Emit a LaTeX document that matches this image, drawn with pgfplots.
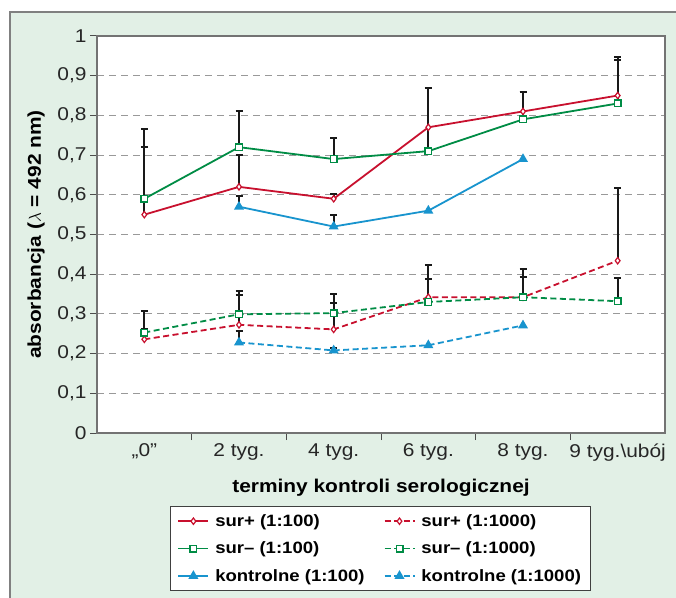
\documentclass[border=0pt]{standalone}
\usepackage{fontspec}
\setmainfont{Liberation Sans}[FakeStretch=1.13]
\usepackage{pgfplots}
\pgfplotsset{compat=1.18}
\definecolor{cred}{RGB}{200,16,46}
\definecolor{cgreen}{RGB}{0,140,69}
\definecolor{cblue}{RGB}{24,148,206}
\definecolor{bgg}{RGB}{226,240,230}
\definecolor{frameg}{RGB}{128,128,128}
\begin{document}
\begin{tikzpicture}[x=1pt,y=1pt]
\useasboundingbox (0,0) rectangle (676,597);
\fill[white] (0,0) rectangle (676,597);
\draw[frameg, line width=2pt, fill=bgg] (10,-20) rectangle (700,585);
\begin{axis}[
  at={(97pt,164pt)}, anchor=south west,
  scale only axis, width=568pt, height=397pt,
  xmin=-0.5, xmax=5.5, ymin=0, ymax=1,
  axis background/.style={fill=white},
  xtick={0,1,2,3,4,5},
  xticklabels={„0”, 2 tyg., 4 tyg., 6 tyg., 8 tyg., 9 tyg.\textbackslash ubój},
  minor xtick={0.5,1.5,2.5,3.5,4.5},
  ytick={0,0.1,0.2,0.3,0.4,0.5,0.6,0.7,0.8,0.9,1},
  /pgf/number format/use comma,
  /pgf/number format/assume math mode=true,
  tick label style={font=\fontsize{18.5}{20}\selectfont, black!85},
  tick align=outside, tick pos=left,
  major tick length=7pt, minor tick length=7pt,
  major x tick style={draw=none},
  minor x tick style={black!70, line width=1pt},
  ytick style={black!70, line width=1pt},
  x axis line style={black!85, line width=1.2pt},
  y axis line style={black!55, line width=1.2pt},
  ymajorgrids,
  major grid style={black!40, line width=1pt, dash pattern=on 7pt off 5pt},
  xlabel={terminy kontroli serologicznej},
  xlabel style={at={(axis description cs:0.5,-0.151)}, anchor=base, font=\bfseries\fontsize{18.5}{20}\selectfont},
  ylabel={absorbancja ($\lambda$ = 492 nm)},
  ylabel style={at={(axis description cs:-0.1074,0.5)}, anchor=center, font=\bfseries\fontsize{18.5}{20}\selectfont},
  legend columns=2, legend cell align=left,
  legend style={at={(axis description cs:0.1285,-0.1839)}, anchor=north west,
    draw=black!75, line width=1pt, fill=white,
    font=\bfseries\fontsize{16.4}{18}\selectfont,
    inner xsep=7pt, inner ysep=6pt, row sep=10pt,
    nodes={inner sep=2pt},
    /tikz/every odd column/.append style={column sep=4pt},
    /tikz/every even column/.append style={column sep=17pt}},
  legend image code/.code={\draw[mark repeat=2, mark phase=2, line width=1.8pt] plot coordinates {(0pt,0pt)(15pt,0pt)(30pt,0pt)};},
]
% error bars (plus direction only)
\addplot[forget plot, draw=none, mark=none,
  error bars/.cd, y dir=plus, y explicit,
  error bar style={draw=black!90, line width=2pt, solid},
  error mark options={rotate=90, draw=black!90, mark size=3.5pt, line width=2pt}]
  coordinates {
  (0,0.55) +- (0,0.17)
  (1,0.62) +- (0,0.08)
  (2,0.59) +- (0,0.012)
  (3,0.77) +- (0,0.10)
  (4,0.81) +- (0,0.05)
  (5,0.85) +- (0,0.09)
  (0,0.59) +- (0,0.176)
  (1,0.72) +- (0,0.092)
  (2,0.69) +- (0,0.054)
  (3,0.71) +- (0,0.16)
  (4,0.79) +- (0,0.07)
  (5,0.83) +- (0,0.118)
  (1,0.57) +- (0,0.027)
  (2,0.52) +- (0,0.03)
  (0,0.236) +- (0,0.027)
  (1,0.2725) +- (0,0.075)
  (2,0.261) +- (0,0.066)
  (3,0.342) +- (0,0.081)
  (4,0.342) +- (0,0.071)
  (5,0.434) +- (0,0.183)
  (0,0.253) +- (0,0.055)
  (1,0.299) +- (0,0.059)
  (2,0.302) +- (0,0.047)
  (3,0.33) +- (0,0.057)
  (4,0.342) +- (0,0.05)
  (5,0.332) +- (0,0.058)
  (1,0.228) +- (0,0.029)
  (2,0.208) +- (0,0.007)
  };
% sur+ (1:100)
\addplot[cred, line width=1.8pt, mark=diamond*, mark size=3.2pt,
  mark options={solid, fill=white, line width=1.2pt}]
  coordinates {(0,0.55)(1,0.62)(2,0.59)(3,0.77)(4,0.81)(5,0.85)};
\addlegendentry{sur+ (1:100)}
% sur+ (1:1000)
\addplot[cred, line width=1.8pt, dash pattern=on 6pt off 3.5pt, mark=diamond*, mark size=3.2pt,
  mark options={solid, fill=white, line width=1.2pt}]
  coordinates {(0,0.236)(1,0.2725)(2,0.261)(3,0.342)(4,0.342)(5,0.434)};
\addlegendentry{sur+ (1:1000)}
% sur- (1:100)
\addplot[cgreen, line width=1.8pt, mark=square*, mark size=3.3pt,
  mark options={solid, fill=white, line width=1.4pt}]
  coordinates {(0,0.59)(1,0.72)(2,0.69)(3,0.71)(4,0.79)(5,0.83)};
\addlegendentry{sur– (1:100)}
% sur- (1:1000)
\addplot[cgreen, line width=1.8pt, dash pattern=on 6pt off 3.5pt, mark=square*, mark size=3.3pt,
  mark options={solid, fill=white, line width=1.4pt}]
  coordinates {(0,0.253)(1,0.299)(2,0.302)(3,0.33)(4,0.342)(5,0.332)};
\addlegendentry{sur– (1:1000)}
% kontrolne (1:100)
\addplot[cblue, line width=1.8pt, mark=triangle*, mark size=4pt,
  mark options={solid, fill=cblue}]
  coordinates {(1,0.57)(2,0.52)(3,0.56)(4,0.69)};
\addlegendentry{kontrolne (1:100)}
% kontrolne (1:1000)
\addplot[cblue, line width=1.8pt, dash pattern=on 6pt off 3.5pt, mark=triangle*, mark size=4pt,
  mark options={solid, fill=cblue}]
  coordinates {(1,0.228)(2,0.208)(3,0.221)(4,0.271)};
\addlegendentry{kontrolne (1:1000)}
\end{axis}
\end{tikzpicture}
\end{document}
